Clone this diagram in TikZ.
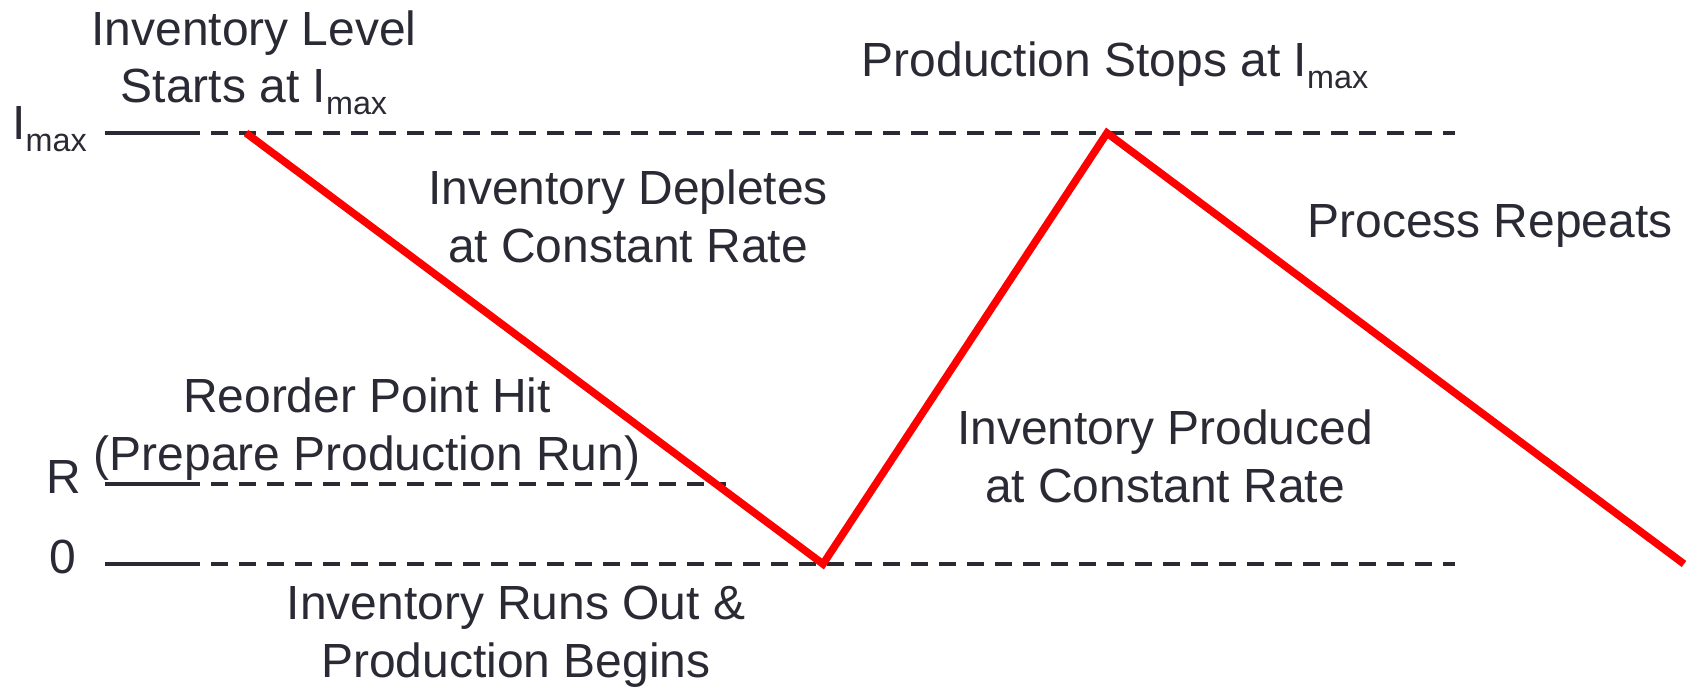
\documentclass[tikz,border=0pt]{standalone}
\usepackage{fontspec}
\setmainfont{Liberation Sans}
\usetikzlibrary{positioning}

\definecolor{ink}{RGB}{42,42,53}
\definecolor{curve}{RGB}{255,0,0}
\newcommand{\Imax}{I\raisebox{-6.8pt}{\fontsize{18.4pt}{18.4pt}\selectfont max}}

\begin{document}
\begin{tikzpicture}[
  x=0.02cm, y=-0.02cm,
  every node/.style={font=\fontsize{27.3pt}{33pt}\selectfont, text=ink, inner sep=0pt},
  note/.style={anchor=base, align=center},
  axis/.style={anchor=base west},
  tick/.style={draw=ink, line width=2.8pt},
  level/.style={draw=ink, line width=2.2pt, dash pattern=on 0.34cm off 0.22cm},
  stock/.style={draw=curve, line width=4.3pt, line join=miter},
]
\useasboundingbox (0,0) rectangle (1693,689);

% Levels on the left.
\node[axis] (imaxlbl) at (12,140) {\Imax};
\node[axis] (rlbl) at (46,493) {R};
\node[axis] (zerolbl) at (49,573) {0};

\coordinate (imaxA) at (105,133);
\coordinate (imaxB) at (183,133);
\coordinate (imaxC) at (1455,133);
\coordinate (rA) at (105,484);
\coordinate (rB) at (183,484);
\coordinate (rC) at (726,484);
\coordinate (zeroA) at (105,564);
\coordinate (zeroB) at (183,564);
\coordinate (zeroC) at (1455,564);

\draw[tick] (imaxA) -- (imaxB);
\draw[tick] (rA) -- (rB);
\draw[tick] (zeroA) -- (zeroB);
\draw[level] (imaxB) -- (imaxC);
\draw[level] (rB) -- (rC);
\draw[level] (zeroB) -- (zeroC);

% Inventory curve.
\coordinate (start) at (246,133);
\coordinate (empty) at (823,564);
\coordinate (peak) at (1107,133);
\coordinate (finish) at (1684,564);
\draw[stock] (start) -- (empty) -- (peak) -- (finish);

% Notes (base is the last line).
\node[note] (startnote) at (254,103) {Inventory Level\\Starts at \Imax};
\node[note] (stopnote) at (1115,77) {Production Stops at \Imax};
\node[note] (deplnote) at (628,262) {Inventory Depletes\\at Constant Rate};
\node[note] (repnote) at (1490,237) {Process Repeats};
\node[note] (reordnote) at (367,470) {Reorder Point Hit\\(Prepare Production Run)};
\node[note] (prodnote) at (1165,502) {Inventory Produced\\at Constant Rate};
\node[note] (outnote) at (516,677) {Inventory Runs Out \&\\Production Begins};

\end{tikzpicture}
\end{document}
